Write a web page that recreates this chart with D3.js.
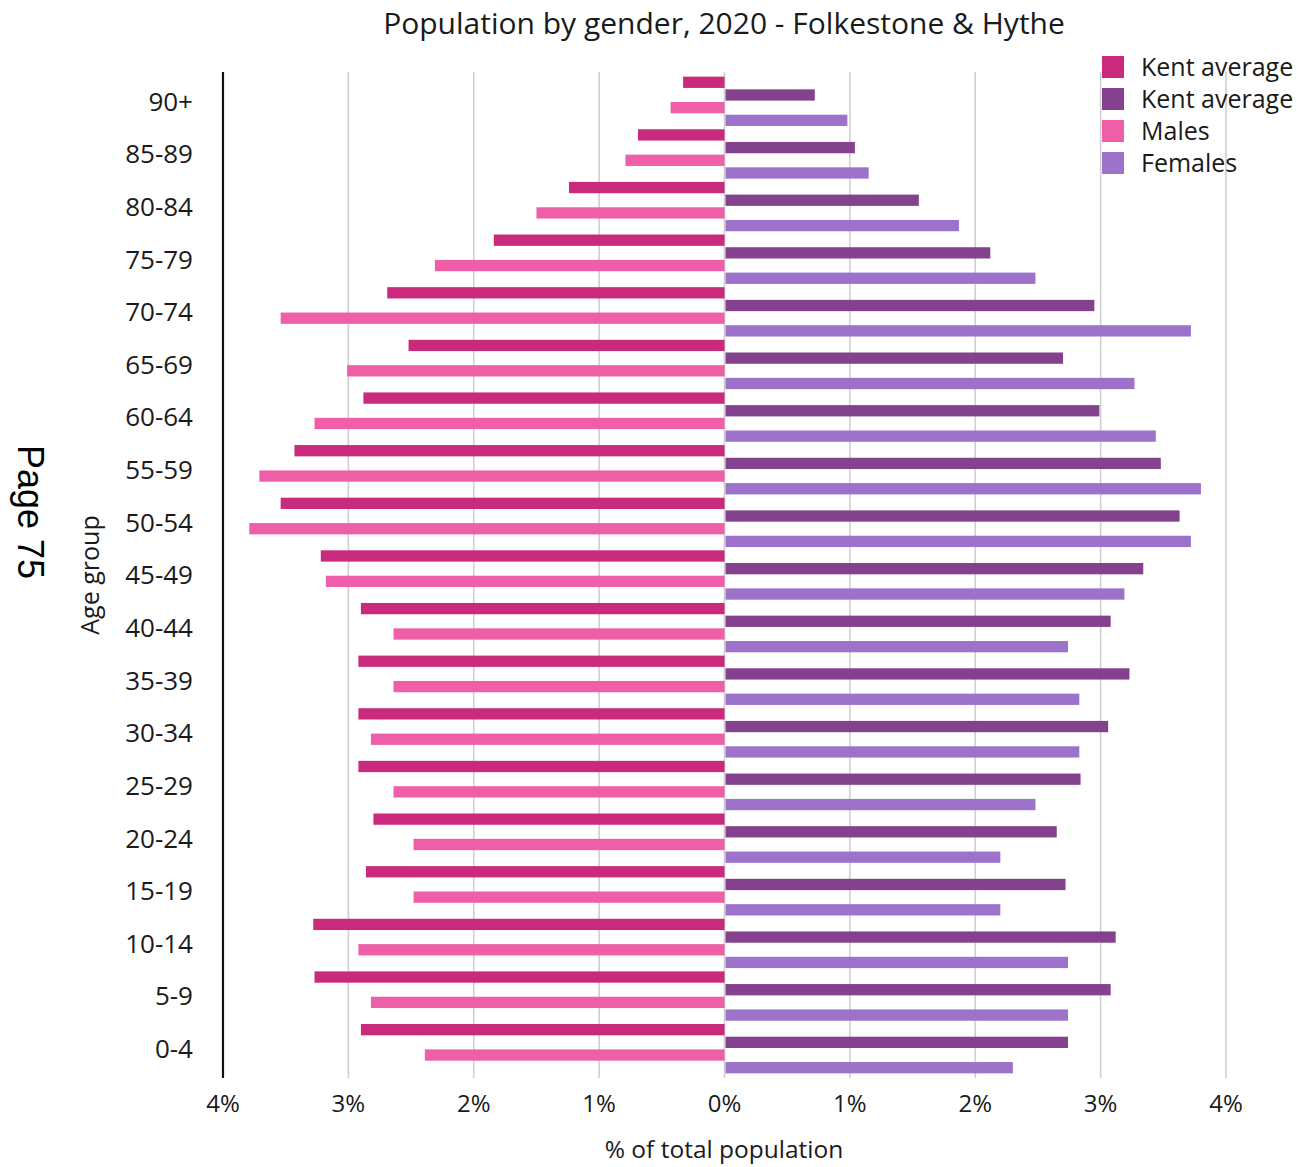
<!DOCTYPE html>
<html>
<head>
<meta charset="utf-8">
<script src="https://cdn.jsdelivr.net/npm/d3@7"></script>
<style>
  html, body { margin: 0; padding: 0; background: #fff; }
  svg { display: block; font-family: "Open Sans", Lato, "Noto Sans", sans-serif; }
</style>
</head>
<body>
<svg id="chart" width="1297" height="1167"></svg>
<script>
// Age bands, oldest at the top
const ageGroups = ["90+","85-89","80-84","75-79","70-74","65-69","60-64","55-59","50-54",
                   "45-49","40-44","35-39","30-34","25-29","20-24","15-19","10-14","5-9","0-4"];

// % of total population
const kentMales    = [0.33,0.69,1.24,1.84,2.69,2.52,2.88,3.43,3.54,3.22,2.90,2.92,2.92,2.92,2.80,2.86,3.28,3.27,2.90];
const males        = [0.43,0.79,1.50,2.31,3.54,3.01,3.27,3.71,3.79,3.18,2.64,2.64,2.82,2.64,2.48,2.48,2.92,2.82,2.39];
const kentFemales  = [0.72,1.04,1.55,2.12,2.95,2.70,2.99,3.48,3.63,3.34,3.08,3.23,3.06,2.84,2.65,2.72,3.12,3.08,2.74];
const females      = [0.98,1.15,1.87,2.48,3.72,3.27,3.44,3.80,3.72,3.19,2.74,2.83,2.83,2.48,2.20,2.20,2.74,2.74,2.30];

const xTickValues = [-4,-3,-2,-1,0,1,2,3,4];
const xTickLabels = ["4%","3%","2%","1%","0%","1%","2%","3%","4%"];

const legendLabels = ["Kent average","Kent average","Males","Females"];

const seriesDefs = [
  { key: "kentM", values: kentMales,   side: -1, color: "#C92A7B", legend: legendLabels[0] },
  { key: "kentF", values: kentFemales, side:  1, color: "#84418D", legend: legendLabels[1] },
  { key: "male",  values: males,       side: -1, color: "#EF5FA7", legend: legendLabels[2] },
  { key: "fem",   values: females,     side:  1, color: "#9C72CB", legend: legendLabels[3] }
];

const svg = d3.select("#chart");
const plotTop = 72, plotBottom = 1078;
const textColor = "#1a1a1a";

const x = d3.scaleLinear().domain([-4, 4]).range([223, 1226]);
const y = d3.scaleBand().domain(ageGroups).range([75, 1075]).padding(0);
const ySub = d3.scaleBand().domain(seriesDefs.map(s => s.key))
  .range([0, y.bandwidth()]).paddingInner(0.11).paddingOuter(0.13);

// vertical gridlines
svg.append("g").selectAll("line")
  .data(xTickValues.filter(v => v !== -4))
  .join("line")
  .attr("x1", d => x(d)).attr("x2", d => x(d))
  .attr("y1", plotTop).attr("y2", plotBottom)
  .attr("stroke", "#cfcfcf").attr("stroke-width", 1.6);

// bars: males extend left of zero, females right
const bars = svg.append("g");
seriesDefs.forEach(s => {
  bars.append("g").selectAll("rect")
    .data(s.values.map((v, i) => ({ age: ageGroups[i], v })))
    .join("rect")
    .attr("x", d => s.side < 0 ? x(-d.v) : x(0) + 1)
    .attr("width", d => s.side < 0 ? x(0) - x(-d.v) : x(d.v) - x(0) - 1)
    .attr("y", d => y(d.age) + ySub(s.key))
    .attr("height", ySub.bandwidth())
    .attr("fill", s.color);
});

// left axis line
svg.append("line")
  .attr("x1", x(-4)).attr("x2", x(-4))
  .attr("y1", plotTop).attr("y2", plotBottom)
  .attr("stroke", "#111").attr("stroke-width", 2.2);

// y tick labels
svg.append("g").selectAll("text")
  .data(ageGroups)
  .join("text")
  .attr("x", 193)
  .attr("y", d => y(d) + y.bandwidth() / 2)
  .attr("dy", "0.36em")
  .attr("text-anchor", "end")
  .attr("font-size", 26)
  .attr("fill", textColor)
  .text(d => d);

// x tick labels
svg.append("g").selectAll("text")
  .data(xTickValues)
  .join("text")
  .attr("x", d => x(d))
  .attr("y", 1112)
  .attr("text-anchor", "middle")
  .attr("font-size", 24)
  .attr("fill", textColor)
  .text((d, i) => xTickLabels[i]);

// titles
svg.append("text")
  .attr("x", 724).attr("y", 34)
  .attr("text-anchor", "middle")
  .attr("font-size", 30)
  .attr("fill", textColor)
  .text("Population by gender, 2020 - Folkestone & Hythe");

svg.append("text")
  .attr("x", 724).attr("y", 1158)
  .attr("text-anchor", "middle")
  .attr("font-size", 24.5)
  .attr("fill", textColor)
  .text("% of total population");

svg.append("text")
  .attr("transform", "translate(99,575) rotate(-90)")
  .attr("text-anchor", "middle")
  .attr("font-size", 25)
  .attr("fill", textColor)
  .text("Age group");

svg.append("text")
  .attr("transform", "translate(18,512) rotate(90)")
  .attr("text-anchor", "middle")
  .attr("font-family", "'Liberation Sans', Arial, sans-serif")
  .attr("font-size", 36)
  .attr("fill", "#000")
  .text("Page 75");

// legend
const legend = svg.append("g").attr("transform", "translate(1102,56)");
const rows = legend.selectAll("g")
  .data(seriesDefs)
  .join("g")
  .attr("transform", (d, i) => `translate(0,${i * 32})`);
rows.append("rect").attr("width", 22).attr("height", 22).attr("fill", d => d.color);
rows.append("text")
  .attr("x", 39).attr("y", 11).attr("dy", "0.36em")
  .attr("font-size", 25)
  .attr("fill", textColor)
  .text(d => d.legend);
</script>
</body>
</html>
